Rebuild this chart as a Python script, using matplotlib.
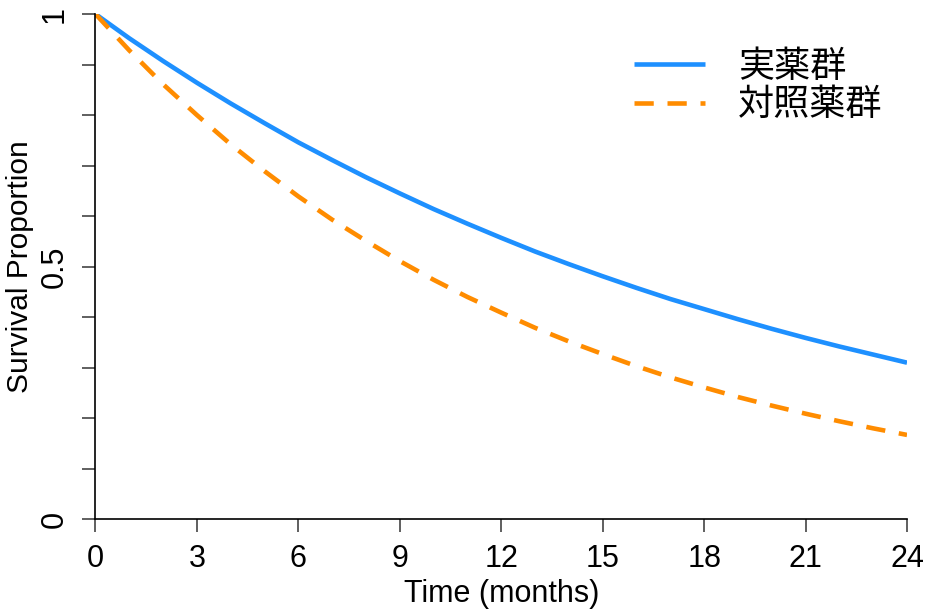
import numpy as np
import matplotlib.pyplot as plt

# survival proportions, month by month
months = list(range(0, 25))
active = [1.000, 0.952, 0.907, 0.864, 0.823, 0.784, 0.746, 0.711, 0.677, 0.645,
          0.614, 0.585, 0.557, 0.530, 0.505, 0.481, 0.458, 0.436, 0.416, 0.396,
          0.377, 0.359, 0.342, 0.326, 0.310]
control = [1.000, 0.928, 0.861, 0.800, 0.742, 0.689, 0.639, 0.593, 0.551, 0.511,
           0.474, 0.440, 0.409, 0.379, 0.352, 0.327, 0.303, 0.281, 0.261, 0.242,
           0.225, 0.209, 0.194, 0.180, 0.167]
labels = ['実薬群', '対照薬群']
xticks = list(range(0, 25, 3))
yticks = [0, 0.1, 0.2, 0.3, 0.4, 0.5, 0.6, 0.7, 0.8, 0.9, 1.0]
ytick_labels = ['0', '', '', '', '', '0.5', '', '', '', '', '1']

plt.rcParams['font.family'] = ['Liberation Sans', 'Noto Sans CJK JP', 'DejaVu Sans']

fig = plt.figure(figsize=(9.26, 6.10), dpi=100)
ax = fig.add_axes([0.1031, 0.1487, 0.8764, 0.8283])

ax.plot(months, active, color='#1E90FF', lw=3.3, solid_capstyle='butt', label=labels[0])
ax.plot(months, control, color='#FF8C00', lw=3.3, dashes=(4.2, 3), label=labels[1])

ax.set_xlim(0, 24)
ax.set_ylim(0, 1)
ax.spines['top'].set_visible(False)
ax.spines['right'].set_visible(False)
for s in ['left', 'bottom']:
    ax.spines[s].set_linewidth(1.2)

ax.set_xticks(xticks)
ax.set_yticks(yticks)
ax.set_yticklabels(ytick_labels, rotation=90, va='center')
ax.tick_params(axis='both', length=9.5, width=1.2, labelsize=22, color='#444444')
ax.tick_params(axis='x', pad=8)
ax.tick_params(axis='y', pad=9)

ax.set_xlabel('Time (months)', fontsize=22, labelpad=4)
ax.set_ylabel('Survival Proportion', fontsize=21.5, labelpad=4)

leg = ax.legend(loc='upper left', bbox_to_anchor=(634 / 926, 1 - 49 / 610),
                bbox_transform=fig.transFigure, frameon=False,
                prop={'family': ['Noto Sans CJK JP'], 'size': 26},
                handlelength=1.97, handletextpad=0.91, labelspacing=0.06,
                borderaxespad=0, borderpad=0)

fig.savefig('out.png', dpi=100)
